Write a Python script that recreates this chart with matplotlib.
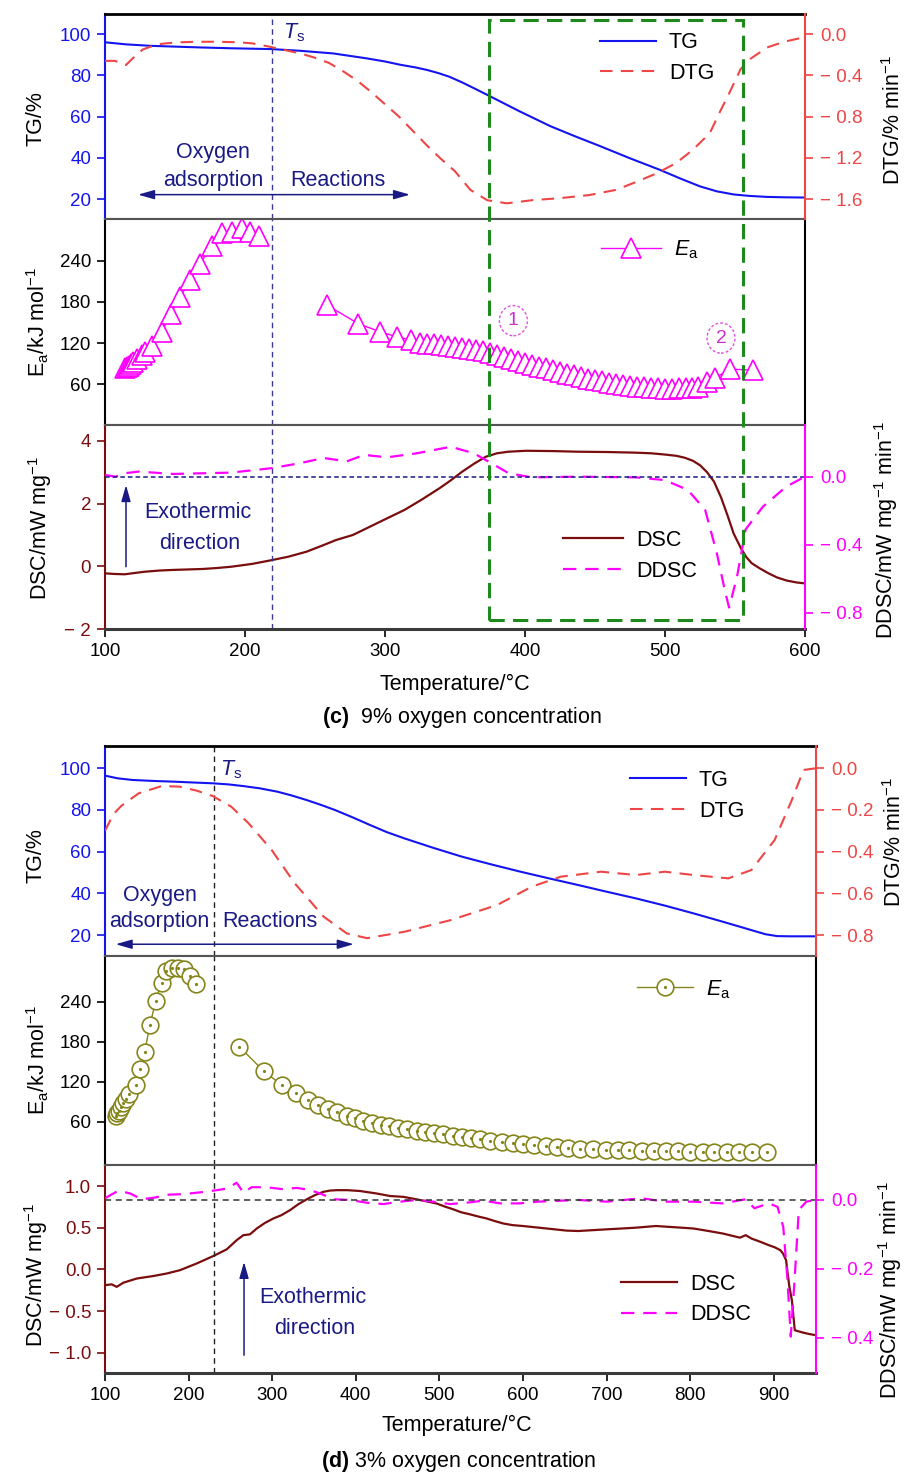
import matplotlib
matplotlib.use("Agg")
import matplotlib.pyplot as plt
from matplotlib.ticker import FuncFormatter, FixedLocator
from matplotlib.patches import Ellipse, Rectangle
from matplotlib.legend_handler import HandlerTuple

plt.rcParams['font.family'] = ['Liberation Sans', 'DejaVu Sans']
plt.rcParams['mathtext.fontset'] = 'custom'
plt.rcParams['mathtext.rm'] = 'Liberation Sans'
plt.rcParams['mathtext.it'] = 'Liberation Sans:italic'
plt.rcParams['mathtext.bf'] = 'Liberation Sans:bold'

# ---------------- data: (c) 9 % oxygen ----------------
c_tg_temp = [100, 115, 132, 150, 168, 190, 219, 239, 263, 287, 300, 311, 322, 330, 338, 346, 355, 364,
             374, 396, 418, 436, 454, 475, 496, 511, 525, 537, 549, 560, 573, 586, 600]
c_tg = [96.0, 95.0, 94.3, 93.9, 93.5, 93.1, 92.7, 91.9, 90.6, 88.2, 86.7, 85.1, 83.8, 82.6, 81.1, 79.3,
        76.6, 73.6, 70.2, 62.6, 55.4, 50.4, 45.6, 39.8, 34.3, 30.0, 26.2, 23.8, 22.3, 21.6, 21.1, 20.9,
        20.8]

c_dtg_temp = [100, 107, 115, 121, 127, 137, 144, 154, 165, 180, 195, 205, 213, 220, 230, 240, 250,
              260, 270, 280, 290, 300, 310, 320, 330, 340, 350, 361, 373, 387, 405, 425, 446, 465,
              480, 494, 508, 520, 532, 539, 546, 554, 561, 573, 585, 600]
c_dtg = [-0.26, -0.26, -0.30, -0.22, -0.15, -0.10, -0.09, -0.08, -0.075, -0.075, -0.08, -0.09, -0.11,
         -0.13, -0.16, -0.19, -0.23, -0.28, -0.36, -0.45, -0.56, -0.68, -0.80, -0.94, -1.08, -1.21,
         -1.33, -1.51, -1.61, -1.64, -1.61, -1.59, -1.56, -1.51, -1.43, -1.35, -1.25, -1.12, -0.96,
         -0.76, -0.57, -0.34, -0.24, -0.13, -0.075, -0.03]

c_ea_temp_low = [114.3, 115.6, 117.0, 118.4, 120.0, 122.6, 126.2, 128.6, 133.3, 140.5, 146.9, 153.6,
                 160.7, 167.9, 176.2, 183.3, 190.5, 197.6, 203.6, 210.2]
c_ea_low = [84, 85.5, 87, 89, 92, 97, 102, 107, 116, 136.5, 162.6, 187, 212.6, 236, 261.6, 281, 282,
            287.6, 282, 276]
c_ea_temp_high = [258.6, 280.9, 296.4, 308.3, 318.3, 325.0, 330.0, 335.0, 340.0, 345.0, 350.0, 355.0,
                  360.0, 365.0, 370.0, 375.0, 380.0, 385.0, 390.0, 395.0, 400.0, 405.0, 410.0, 415.0,
                  420.0, 425.0, 430.0, 435.0, 440.0, 445.0, 450.0, 455.0, 460.0, 465.0, 470.0, 475.0,
                  480.0, 485.0, 490.0, 495.0, 500.0, 505.0, 510.0, 515.0, 519.5, 523.8, 529.8, 535.7,
                  546.4, 563.0]
c_ea_high = [175.3, 148.3, 136.6, 129.2, 124.3, 120.5, 119.0, 118.0, 117.0, 116.0, 115.0, 113.5, 112.0,
             110.0, 108.0, 105.5, 103.0, 100.0, 97.0, 93.5, 90.5, 88.0, 85.5, 83.0, 80.5, 78.0, 75.5,
             73.0, 70.5, 68.0, 66.0, 64.0, 62.0, 60.5, 59.0, 57.5, 56.5, 55.5, 54.5, 54.0, 53.7, 53.7,
             54.0, 54.5, 55.0, 56.0, 63.0, 69.0, 82.0, 80.6]

c_dsc_temp = [100, 107, 114, 121, 128, 139, 149, 160, 170, 180, 190, 205, 219, 231, 244, 255, 265, 277,
              289, 301, 314, 326, 339, 347, 355, 364, 372, 380, 388, 401, 420, 438, 459, 479, 490, 500,
              508, 514, 520, 525, 530, 535, 540, 545, 549, 554, 558, 562, 568, 574, 580, 587, 594, 600]
c_dsc = [-0.22, -0.24, -0.25, -0.21, -0.17, -0.13, -0.11, -0.095, -0.08, -0.05, -0.01, 0.08, 0.2, 0.31,
         0.47, 0.66, 0.84, 1.0, 1.26, 1.52, 1.8, 2.12, 2.49, 2.74, 3.01, 3.28, 3.49, 3.6, 3.65, 3.68,
         3.67, 3.65, 3.64, 3.62, 3.6, 3.56, 3.52, 3.46, 3.36, 3.22, 3.0, 2.7, 2.2, 1.58, 1.05, 0.6, 0.3,
         0.1, -0.07, -0.22, -0.35, -0.45, -0.51, -0.54]

c_ddsc_temp = [100, 107.6, 113.8, 124.1, 148.9, 170, 190.1, 219, 239.7, 256.2, 272.7, 285.1, 301.6, 322.3,
               347, 363.6, 376, 388.4, 404.9, 437.9, 479.1, 499.8, 516.3, 528.7, 537, 543.2, 545.8,
               551.4, 557.6, 570, 586.5, 600]
c_ddsc = [0.01, 0.0, 0.02, 0.03, 0.016, 0.02, 0.024, 0.05, 0.08, 0.11, 0.09, 0.128, 0.114, 0.137, 0.176,
          0.137, 0.079, 0.02, -0.004, 0.0, -0.004, -0.02, -0.078, -0.196, -0.45, -0.686, -0.77, -0.59,
          -0.31, -0.176, -0.059, 0.0]

c_ts = 219

# ---------------- data: (d) 3 % oxygen ----------------
d_tg_temp = [100, 115, 133, 160, 182, 205, 229, 247, 265, 285, 306, 323, 341, 358, 375, 396, 417, 437,
             458, 493, 527, 562, 597, 631, 666, 700, 735, 770, 804, 839, 873, 890, 904, 920, 950]
d_tg = [96.5, 95.2, 94.4, 93.9, 93.6, 93.2, 92.8, 92.3, 91.5, 90.4, 88.8, 87.0, 84.8, 82.5, 80.0, 76.5,
        72.8, 69.4, 66.4, 61.8, 57.6, 53.9, 50.4, 47.2, 44.0, 40.8, 37.6, 34.1, 30.4, 26.4, 22.4, 20.4,
        19.5, 19.4, 19.4]

d_dtg_temp = [100, 110, 119.6, 140.3, 168, 188.7, 209.5, 228.8, 251, 271.8, 299.4, 327, 361.6, 389.2,
              413.5, 458.4, 513.7, 569, 610.5, 645.1, 693.5, 735, 769.6, 804.1, 845.6, 873.2, 901, 921.6,
              935.5, 950]
d_dtg = [-0.30, -0.22, -0.18, -0.12, -0.085, -0.088, -0.107, -0.133, -0.184, -0.264, -0.392, -0.552,
         -0.712, -0.792, -0.815, -0.784, -0.728, -0.656, -0.568, -0.52, -0.496, -0.512, -0.496, -0.512,
         -0.528, -0.488, -0.344, -0.152, -0.008, 0.0]

d_ea_temp_low = [113.2, 114.8, 116.8, 119.1, 121.9, 125.0, 129.0, 136.7, 141.9, 147.5, 153.8, 160.6,
                 167.8, 172.6, 179.8, 187.8, 194.5, 201.7, 208.9]
d_ea_low = [69, 72.5, 76.5, 81.5, 87.5, 93.5, 101.5, 115.5, 139, 165, 205.5, 241, 268.5, 286.5, 290,
            290, 288.5, 278.5, 266.5]
d_ea_temp_high = [260.7, 289.8, 311.3, 328.5, 343.2, 355.2, 367.2, 377.9, 389.1, 399.1, 409.0, 419.0,
                  429.8, 440.1, 450.9, 461.7, 472.8, 482.8, 494.0, 504.7, 515.9, 526.7, 537.8, 548.6,
                  560.6, 574.5, 587.7, 600.4, 613.2, 627.2, 640.3, 654.2, 668.2, 684.2, 699.3, 713.3,
                  727.2, 742.0, 756.7, 771.0, 785.9, 799.8, 814.9, 828.8, 843.6, 858.8, 873.6, 892.2]
d_ea_high = [172.5, 136, 115, 102.5, 92.5, 85, 79, 74, 69, 65, 61.5, 58.5, 55.5, 53, 50.5, 48.5, 46.5,
             44.5, 42.5, 41, 39, 37.5, 35.5, 33.5, 31.5, 29.5, 27.5, 26, 24.5, 23, 21.5, 20.5, 19.5,
             18.5, 18, 17.5, 17, 16.5, 16, 15.5, 15.5, 15, 15, 14.5, 14.5, 14.5, 14.5, 15]

d_dsc_temp = [100, 108, 114, 122, 138, 157.8, 173.8, 189.7, 209.6, 229.6, 245.6, 257.5, 265.5, 273.4,
              281.5, 291, 301.3, 311, 321.3, 331, 341.3, 351, 361.1, 369, 377.2, 390, 405, 415, 425,
              440.9, 456.8, 472.8, 485, 496.7, 506, 516.7, 526, 536.6, 546, 556.6, 566, 576.5, 588, 600,
              619, 638, 652, 666, 683, 700, 718, 735, 759, 782, 804, 822, 839, 859.5, 866.4, 873.2, 884,
              894, 901, 907.8, 911, 914.7, 916.1, 918.5, 921.6, 925.1, 930, 935.5, 942, 950]
d_dsc = [-0.19, -0.18, -0.21, -0.16, -0.11, -0.08, -0.05, -0.01, 0.07, 0.16, 0.24, 0.35, 0.41, 0.42,
         0.49, 0.555, 0.61, 0.65, 0.71, 0.78, 0.84, 0.89, 0.93, 0.945, 0.95, 0.95, 0.94, 0.925, 0.91,
         0.88, 0.87, 0.84, 0.815, 0.79, 0.755, 0.72, 0.685, 0.66, 0.635, 0.61, 0.58, 0.55, 0.53, 0.52,
         0.5, 0.48, 0.465, 0.46, 0.47, 0.48, 0.49, 0.5, 0.52, 0.505, 0.49, 0.46, 0.43, 0.38, 0.41, 0.37,
         0.33, 0.29, 0.265, 0.23, 0.19, 0.11, -0.01, -0.2, -0.37, -0.73, -0.745, -0.76, -0.775, -0.79]

d_ddsc_temp = [100, 116, 129.9, 143.9, 159.8, 173.8, 193.7, 213.6, 229.6, 245.6, 257.5, 265.5, 275.5,
               293.4, 313.3, 329.3, 345.2, 359.2, 373.1, 393.1, 413, 432.9, 452.9, 472.8, 492.7, 512.7,
               532.6, 552.5, 572.5, 596.4, 617.3, 665.8, 700.5, 741.9, 769.6, 804.1, 838.7, 866.4,
               876.7, 894, 904.4, 911.3, 916.1, 920.3, 925.1, 929.9, 938.9, 950]
d_ddsc = [0.005, 0.027, 0.019, 0.002, 0.007, 0.015, 0.017, 0.022, 0.027, 0.033, 0.05, 0.021, 0.037,
          0.037, 0.031, 0.035, 0.029, 0.017, 0.002, 0.0, -0.008, -0.012, -0.005, 0.0, -0.005, -0.012,
          -0.008, -0.002, -0.01, -0.01, -0.005, 0.0, -0.005, 0.005, -0.005, -0.005, -0.01, 0.002,
          -0.024, -0.01, -0.02, -0.078, -0.223, -0.397, -0.223, -0.029, -0.005, 0.0]

d_ts = 230

# ---------------- colours ----------------
NAVY = '#1a1a85'
BLUE = '#1414f0'
RED = '#ee4646'
MAGENTA = '#ff00ff'
MAROON = '#7a0d0d'
OLIVE = '#85851c'
GREEN = '#1e8a1e'
GRAY = '#555555'

W, H = 906, 1475
fig = plt.figure(figsize=(W / 100, H / 100), dpi=100)


def box(x0, x1, y0, y1):
    """Axes rectangle from pixel columns/rows measured from the top-left."""
    return [x0 / W, 1 - y1 / H, (x1 - x0) / W, (y1 - y0) / H]


def signed(fmt):
    return FuncFormatter(lambda v, p: ('\u2212 ' if v < -1e-9 else '') + fmt % abs(v))


TICK = dict(direction='out', length=6, width=1.2, labelsize=13.5)


def setup_axes(x0, x1, rows, xlim, xticks):
    ax_tg = fig.add_axes(box(x0, x1, rows[0], rows[1]))
    ax_ea = fig.add_axes(box(x0, x1, rows[1], rows[2]))
    ax_dsc = fig.add_axes(box(x0, x1, rows[2], rows[3]))
    ax_dtg = ax_tg.twinx()
    ax_ddsc = ax_dsc.twinx()
    for ax in (ax_tg, ax_ea, ax_dsc, ax_dtg, ax_ddsc):
        ax.set_xlim(*xlim)
        for s in ax.spines.values():
            s.set_linewidth(1.5)
    for ax in (ax_tg, ax_ea):
        ax.tick_params(axis='x', bottom=False, labelbottom=False)

    # spines
    ax_tg.spines['right'].set_visible(False)
    ax_tg.spines['top'].set_color('black')
    ax_tg.spines['top'].set_linewidth(2)
    ax_tg.spines['bottom'].set_color(GRAY)
    ax_tg.spines['left'].set_color(BLUE)
    for k in ('left', 'top', 'bottom'):
        ax_dtg.spines[k].set_visible(False)
        ax_ddsc.spines[k].set_visible(False)
    ax_dtg.spines['right'].set_color(RED)
    ax_ea.spines['top'].set_color(GRAY)
    ax_ea.spines['bottom'].set_color(GRAY)
    ax_dsc.spines['right'].set_visible(False)
    ax_dsc.spines['top'].set_color(GRAY)
    ax_dsc.spines['bottom'].set_color('#3a3a3a')
    ax_dsc.spines['bottom'].set_linewidth(2.2)
    ax_dsc.spines['left'].set_color(MAROON)
    ax_ddsc.spines['right'].set_color(MAGENTA)

    ax_tg.tick_params(axis='y', colors=BLUE, pad=4, **TICK)
    ax_dtg.tick_params(axis='y', colors=RED, pad=5, **TICK)
    ax_ea.tick_params(axis='y', colors='black', pad=4, right=False, **TICK)
    ax_dsc.tick_params(axis='y', colors=MAROON, pad=4, **TICK)
    ax_ddsc.tick_params(axis='y', colors=MAGENTA, pad=5, **TICK)
    ax_dsc.tick_params(axis='x', colors='black', pad=4, **TICK)
    ax_dsc.xaxis.set_major_locator(FixedLocator(xticks))
    ax_dsc.xaxis.set_major_formatter(FuncFormatter(lambda v, p: '%d' % v))
    return ax_tg, ax_dtg, ax_ea, ax_dsc, ax_ddsc


def ylabel(x, y, text, **kw):
    fig.text(x / W, 1 - y / H, text, rotation=90, ha='center', va='center', fontsize=15.5, **kw)


LEG = dict(frameon=False, fontsize=15.5, borderpad=0, borderaxespad=0, handletextpad=0.6)

# =====================================================================
# (c) 9 % oxygen concentration
# =====================================================================
cx0, cx1 = 105, 805
c_rows = [14, 219, 425, 629.3]
ax_tg, ax_dtg, ax_ea, ax_dsc, ax_ddsc = setup_axes(cx0, cx1, c_rows, (100, 600),
                                                    [100, 200, 300, 400, 500, 600])
ax_tg.set_ylim(10.4, 109.7)
ax_dtg.set_ylim(-1.792, 0.194)
ax_ea.set_ylim(0.5, 301)
ax_dsc.set_ylim(-2.0, 4.5)
ax_ddsc.set_ylim(-0.898, 0.304)

ax_tg.yaxis.set_major_locator(FixedLocator([20, 40, 60, 80, 100]))
ax_dtg.yaxis.set_major_locator(FixedLocator([0.0, -0.4, -0.8, -1.2, -1.6]))
ax_dtg.yaxis.set_major_formatter(signed('%.1f'))
ax_ea.yaxis.set_major_locator(FixedLocator([60, 120, 180, 240]))
ax_dsc.yaxis.set_major_locator(FixedLocator([-2, 0, 2, 4]))
ax_dsc.yaxis.set_major_formatter(signed('%d'))
ax_ddsc.yaxis.set_major_locator(FixedLocator([0.0, -0.4, -0.8]))
ax_ddsc.yaxis.set_major_formatter(signed('%.1f'))

l_tg, = ax_tg.plot(c_tg_temp, c_tg, color=BLUE, lw=1.5)
l_dtg, = ax_dtg.plot(c_dtg_temp, c_dtg, color=RED, lw=1.5, dashes=(6, 4))
ax_dtg.legend([l_tg, l_dtg], ['TG', 'DTG'], loc='center left',
              bbox_to_anchor=((600 - cx0) / 700, 0.785), handlelength=2.6, labelspacing=0.45, **LEG)

ea_style = dict(color=MAGENTA, lw=1.0, marker='^', ms=14, mfc='white', mec=MAGENTA, mew=1.2)
l_ea, = ax_ea.plot(c_ea_temp_low, c_ea_low, **ea_style)
ax_ea.plot(c_ea_temp_high, c_ea_high, **ea_style)
ax_ea.legend([l_ea], [r'$E_\mathrm{a}$'], loc='center left',
             bbox_to_anchor=((601 - cx0) / 700, 0.85), handlelength=2.8, numpoints=1, **LEG)

l_dsc, = ax_dsc.plot(c_dsc_temp, c_dsc, color=MAROON, lw=1.6)
l_ddsc, = ax_ddsc.plot(c_ddsc_temp, c_ddsc, color=MAGENTA, lw=1.6, dashes=(6, 4))
ax_ddsc.axhline(0, color=NAVY, lw=1.1, dashes=(3, 2))
ax_ddsc.legend([l_dsc, l_ddsc], ['DSC', 'DDSC'], loc='center left',
               bbox_to_anchor=((563 - cx0) / 700, 0.36), handlelength=2.8, labelspacing=0.45, **LEG)

for ax in (ax_tg, ax_ea, ax_dsc):
    ax.axvline(c_ts, color='#3a3a96', lw=1.0, dashes=(4, 3))

ax_tg.text(235, 100.5, r'$T_\mathrm{s}$', color=NAVY, fontsize=15.5, ha='center', va='center')
ax_tg.text(177, 42.6, 'Oxygen', color=NAVY, fontsize=15.5, ha='center', va='center')
ax_tg.text(177, 29.1, 'adsorption', color=NAVY, fontsize=15.5, ha='center', va='center')
ax_tg.text(266, 29.1, 'Reactions', color=NAVY, fontsize=15.5, ha='center', va='center')
ax_tg.annotate('', xy=(123.6, 22.2), xytext=(317.9, 22.2),
               arrowprops=dict(arrowstyle='<|-|>,head_length=0.7,head_width=0.2', color=NAVY,
                               lw=1.1, mutation_scale=14, shrinkA=0, shrinkB=0))

ax_dsc.annotate('', xy=(115, 2.59), xytext=(115, -0.01),
                arrowprops=dict(arrowstyle='-|>,head_length=0.7,head_width=0.2', color=NAVY,
                                lw=1.1, mutation_scale=14, shrinkA=0, shrinkB=0))
ax_dsc.text(166.4, 1.71, 'Exothermic', color=NAVY, fontsize=15.5, ha='center', va='center')
ax_dsc.text(167.4, 0.74, 'direction', color=NAVY, fontsize=15.5, ha='center', va='center')

for (tx, ty, lab) in ((391.7, 152.7, '1'), (540.0, 127.3, '2')):
    ax_ea.add_patch(Ellipse((tx, ty), 20, 44, fill=False, ec='#e050e0', lw=1.0, ls=(0, (2, 1.5))))
    ax_ea.text(tx, ty, lab, color='#cc30cc', fontsize=14, ha='center', va='center')

# dashed frame marking the main reaction interval across the three panels
p0 = fig.transFigure.inverted().transform(ax_dsc.transData.transform((374.3, -1.70)))
p1 = fig.transFigure.inverted().transform(ax_tg.transData.transform((555.5, 107.0)))
fig.add_artist(Rectangle(p0, p1[0] - p0[0], p1[1] - p0[1], transform=fig.transFigure, fill=False,
                         ec=GREEN, lw=2.2, ls=(0, (5, 2.7)), zorder=5))

ylabel(36, 119, 'TG/%')
ylabel(894, 120, r'DTG/% min$^{-1}$')
ylabel(38, 322, r'E$_\mathrm{a}$/kJ mol$^{-1}$')
ylabel(40, 528, r'DSC/mW mg$^{-1}$')
ylabel(886, 530, r'DDSC/mW mg$^{-1}$ min$^{-1}$')
fig.text(455 / W, 1 - 684 / H, 'Temperature/°C', ha='center', va='center', fontsize=15.5)
fig.text(462 / W, 1 - 718 / H, r'$\mathbf{(c)}$  9% oxygen concentration', ha='center', va='center',
         fontsize=15.5)

# =====================================================================
# (d) 3 % oxygen concentration
# =====================================================================
dx0, dx1 = 105, 815.6
d_rows = [746, 955.7, 1164.5, 1372.7]
ax_tg, ax_dtg, ax_ea, ax_dsc, ax_ddsc = setup_axes(dx0, dx1, d_rows, (100, 950),
                                                    [100, 200, 300, 400, 500, 600, 700, 800, 900])
dw = dx1 - dx0
ax_tg.set_ylim(10.1, 110.7)
ax_dtg.set_ylim(-0.899, 0.107)
ax_ea.set_ylim(-4.2, 309)
ax_dsc.set_ylim(-1.24, 1.258)
ax_ddsc.set_ylim(-0.502, 0.103)

ax_tg.yaxis.set_major_locator(FixedLocator([20, 40, 60, 80, 100]))
ax_dtg.yaxis.set_major_locator(FixedLocator([0.0, -0.2, -0.4, -0.6, -0.8]))
ax_dtg.yaxis.set_major_formatter(signed('%.1f'))
ax_ea.yaxis.set_major_locator(FixedLocator([60, 120, 180, 240]))
ax_dsc.yaxis.set_major_locator(FixedLocator([-1.0, -0.5, 0.0, 0.5, 1.0]))
ax_dsc.yaxis.set_major_formatter(signed('%.1f'))
ax_ddsc.yaxis.set_major_locator(FixedLocator([0.0, -0.2, -0.4]))
ax_ddsc.yaxis.set_major_formatter(signed('%.1f'))

l_tg, = ax_tg.plot(d_tg_temp, d_tg, color=BLUE, lw=1.5)
l_dtg, = ax_dtg.plot(d_dtg_temp, d_dtg, color=RED, lw=1.5, dashes=(6, 4))
ax_dtg.legend([l_tg, l_dtg], ['TG', 'DTG'], loc='center left',
              bbox_to_anchor=((630 - dx0) / dw, 0.7625), handlelength=2.6, labelspacing=0.45, **LEG)

circ_style = dict(color=OLIVE, lw=1.0, marker='o', ms=12, mfc='white', mec=OLIVE, mew=1.2)
dot_style = dict(ls='none', marker='o', ms=1.3, color=OLIVE)
l_ea, = ax_ea.plot(d_ea_temp_low, d_ea_low, **circ_style)
l_dot, = ax_ea.plot(d_ea_temp_low, d_ea_low, **dot_style)
ax_ea.plot(d_ea_temp_high, d_ea_high, **circ_style)
ax_ea.plot(d_ea_temp_high, d_ea_high, **dot_style)
ax_ea.legend([(l_ea, l_dot)], [r'$E_\mathrm{a}$'], loc='center left',
             bbox_to_anchor=((637 - dx0) / dw, 0.839), handlelength=2.6, numpoints=1,
             handler_map={tuple: HandlerTuple(ndivide=1)}, **LEG)

l_dsc, = ax_dsc.plot(d_dsc_temp, d_dsc, color=MAROON, lw=1.6)
l_ddsc, = ax_ddsc.plot(d_ddsc_temp, d_ddsc, color=MAGENTA, lw=1.6, dashes=(6, 4))
ax_ddsc.axhline(0, color='#333333', lw=1.1, dashes=(4, 3))
ax_ddsc.legend([l_dsc, l_ddsc], ['DSC', 'DDSC'], loc='center left',
               bbox_to_anchor=((621 - dx0) / dw, 0.351), handlelength=2.6, labelspacing=0.45, **LEG)

for ax in (ax_tg, ax_ea, ax_dsc):
    ax.axvline(d_ts, color='#222222', lw=1.0, dashes=(4, 3))

ax_tg.text(250.7, 99.2, r'$T_\mathrm{s}$', color=NAVY, fontsize=15.5, ha='center', va='center')
ax_tg.text(165.8, 38.8, 'Oxygen', color=NAVY, fontsize=15.5, ha='center', va='center')
ax_tg.text(164.6, 26.4, 'adsorption', color=NAVY, fontsize=15.5, ha='center', va='center')
ax_tg.text(297.4, 26.4, 'Reactions', color=NAVY, fontsize=15.5, ha='center', va='center')
ax_tg.annotate('', xy=(112.7, 15.6), xytext=(397.6, 15.6),
               arrowprops=dict(arrowstyle='<|-|>,head_length=0.7,head_width=0.2', color=NAVY,
                               lw=1.1, mutation_scale=14, shrinkA=0, shrinkB=0))

ax_dsc.annotate('', xy=(266.3, 0.09), xytext=(266.3, -1.03),
                arrowprops=dict(arrowstyle='-|>,head_length=0.7,head_width=0.2', color=NAVY,
                                lw=1.1, mutation_scale=14, shrinkA=0, shrinkB=0))
ax_dsc.text(348.4, -0.34, 'Exothermic', color=NAVY, fontsize=15.5, ha='center', va='center')
ax_dsc.text(350.8, -0.71, 'direction', color=NAVY, fontsize=15.5, ha='center', va='center')

ylabel(36, 856, 'TG/%')
ylabel(895, 842, r'DTG/% min$^{-1}$')
ylabel(38, 1060, r'E$_\mathrm{a}$/kJ mol$^{-1}$')
ylabel(36, 1275, r'DSC/mW mg$^{-1}$')
ylabel(890, 1290, r'DDSC/mW mg$^{-1}$ min$^{-1}$')
fig.text(457 / W, 1 - 1425 / H, 'Temperature/°C', ha='center', va='center', fontsize=15.5)
fig.text(459 / W, 1 - 1462 / H, r'$\mathbf{(d)}$ 3% oxygen concentration', ha='center', va='center',
         fontsize=15.5)

fig.savefig('out.png', dpi=100, facecolor='white')
